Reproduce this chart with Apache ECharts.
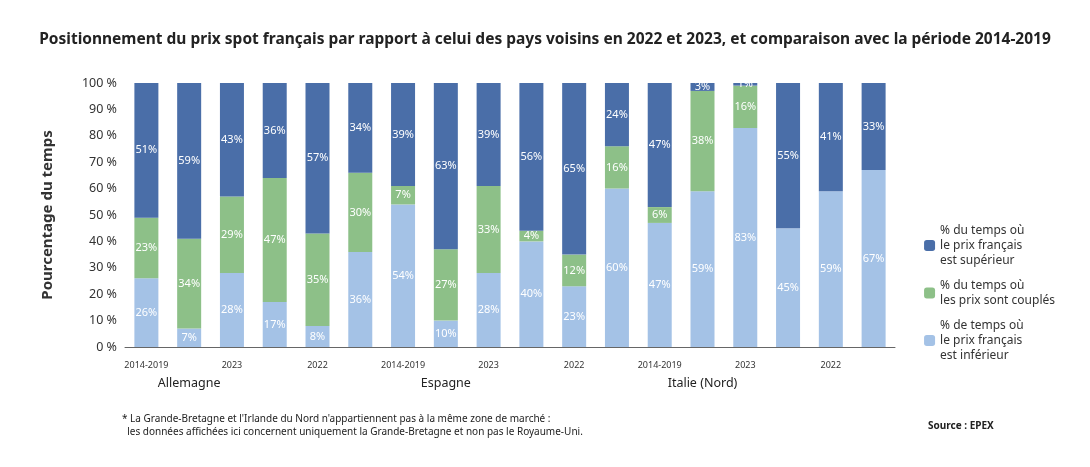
<!DOCTYPE html><html><head><meta charset="utf-8"><script src="https://cdn.jsdelivr.net/npm/echarts@6/dist/echarts.min.js"></script></head><body style="margin:0;background:#fff"><div id="c" style="width:1090px;height:467px"></div><script>
const countries=['Allemagne','Belgique','Espagne','Grande-Bretagne*','Italie (Nord)','Suisse'];
const periods=['2014-2019','2022','2023'];
const inferieur=[26,7,28,17,8,36,54,10,28,40,23,60,47,59,83,45,59,67];
const couples=[23,34,29,47,35,30,7,27,33,4,12,16,6,38,16,0,0,0];
const superieur=[51,59,43,36,57,34,39,63,39,56,65,24,47,3,1,55,41,33];
const cats=[];countries.forEach((c,i)=>periods.forEach(p=>cats.push(c+'|'+p)));
const F='Noto Sans';
function lab(v,i){return v===0?'':v+'%';}
const mk=(name,data,color)=>({name,type:'bar',stack:'s',barWidth:24,data:data.map((v,i)=>{
  const o={value:v};
  if(name.startsWith('% du temps où\nle prix français est')&&(v<=3)){o.label={position:'top',color:'#222',fontWeight:'bold',offset:[0,-2]};}
  return o;}),itemStyle:{color},label:{show:true,position:'inside',color:'#fff',fontSize:11,fontFamily:F,formatter:p=>lab(p.value)}});
const chart=echarts.init(document.getElementById('c'));
chart.setOption({
 title:{text:'Positionnement du prix spot français par rapport à celui des pays voisins en 2022 et 2023, et comparaison avec la période 2014-2019',left:'center',top:27,textStyle:{fontFamily:F,fontSize:15.5,fontWeight:'bold',color:'#222'}},
 grid:{left:125,right:195,top:83,bottom:120},
 legend:{orient:'vertical',right:30,top:218,itemWidth:11,itemHeight:11,itemGap:10,textStyle:{fontFamily:F,fontSize:12,color:'#333',lineHeight:15},
  data:['% de temps où\nle prix français\nest inférieur','% du temps où\nles prix sont couplés','% du temps où\nle prix français\nest supérieur'].reverse()},
 xAxis:[{type:'category',data:cats,axisLine:{show:false},axisTick:{show:false},axisLabel:{formatter:v=>v.split('|')[1],fontSize:9,fontFamily:F,color:'#333',margin:14}},
  {type:'category',data:countries,position:'bottom',axisLine:{lineStyle:{color:'#666'}},axisTick:{length:52,inside:false,lineStyle:{color:'#666'}},axisLabel:{fontSize:12.5,fontFamily:F,color:'#222',margin:30}}],
 yAxis:{type:'value',min:0,max:100,interval:10,axisLabel:{formatter:'{value} %',fontFamily:F,fontSize:12.5,color:'#333'},splitLine:{show:false},axisLine:{show:false},
  name:'Pourcentage du temps',nameLocation:'middle',nameGap:70,nameTextStyle:{fontFamily:F,fontSize:15,fontWeight:'bold',color:'#333'}},
 series:[mk('% de temps où\nle prix français\nest inférieur',inferieur,'#a4c2e6'),mk('% du temps où\nles prix sont couplés',couples,'#8dc088'),mk('% du temps où\nle prix français\nest supérieur',superieur,'#4a6ea8')],
 graphic:[{type:'text',left:122,top:413,style:{text:"* La Grande-Bretagne et l'Irlande du Nord n'appartiennent pas à la même zone de marché :\n  les données affichées ici concernent uniquement la Grande-Bretagne et non pas le Royaume-Uni.",fontFamily:F,fontSize:10,fill:'#222',lineHeight:13}},
  {type:'text',left:928,top:421,style:{text:'Source : EPEX',fontFamily:F,fontSize:10,fontWeight:'bold',fill:'#222'}}]
});
</script></body></html>
